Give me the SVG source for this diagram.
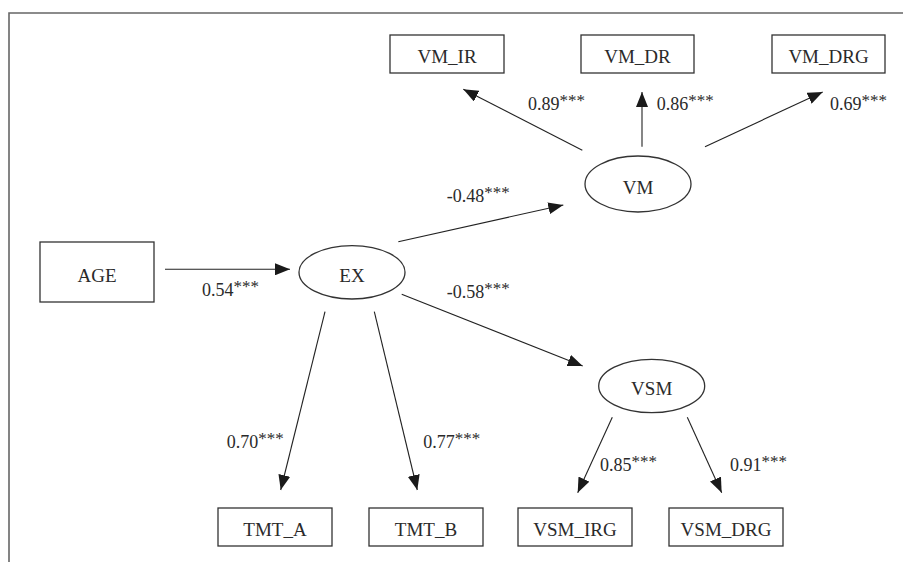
<svg xmlns="http://www.w3.org/2000/svg" width="903" height="562" viewBox="0 0 903 562">
<style>
.box{fill:#fff;stroke:#333;stroke-width:1.3}
.frame{stroke:#666;stroke-width:1.6;fill:none}
.t{font-family:"Liberation Serif","Times New Roman",serif;font-size:19px;fill:#2a2a2a;text-anchor:middle}
.l{font-family:"Liberation Serif","Times New Roman",serif;font-size:18px;fill:#2a2a2a}
.s{font-size:17px}
.c{stroke:#222;stroke-width:1.1;fill:none;marker-end:url(#ah)}
</style>
<defs>
<marker id="ah" markerUnits="userSpaceOnUse" markerWidth="16" markerHeight="12" refX="15" refY="6" orient="auto">
<path d="M0,0 L15,6 L0,12 Z" fill="#1a1a1a"/>
</marker>
</defs>
<rect width="903" height="562" fill="#fff"/>
<path class="frame" d="M9,562 V13 H903"/>
<g id="connectors">
<line class="c" x1="165" y1="269.3" x2="290" y2="269.3"/>
<line class="c" x1="398.3" y1="241.7" x2="563.3" y2="205"/>
<line class="c" x1="401.7" y1="294.3" x2="582.7" y2="366"/>
<line class="c" x1="582.3" y1="150.3" x2="463.3" y2="89.3"/>
<line class="c" x1="642" y1="146.7" x2="642" y2="92"/>
<line class="c" x1="705" y1="146.7" x2="822.7" y2="92"/>
<line class="c" x1="325" y1="311.7" x2="280.7" y2="490"/>
<line class="c" x1="374.3" y1="311.7" x2="417.3" y2="490"/>
<line class="c" x1="612.3" y1="417.3" x2="577.7" y2="492.7"/>
<line class="c" x1="687.3" y1="417.3" x2="721.7" y2="492.7"/>
</g>
<g id="labels">
<text class="l" x="202" y="296">0.54<tspan class="s" dy="-4">***</tspan></text>
<text class="l" x="446.7" y="202">-0.48<tspan class="s" dy="-4">***</tspan></text>
<text class="l" x="446.7" y="298">-0.58<tspan class="s" dy="-4">***</tspan></text>
<text class="l" x="528" y="110">0.89<tspan class="s" dy="-4">***</tspan></text>
<text class="l" x="656.7" y="110">0.86<tspan class="s" dy="-4">***</tspan></text>
<text class="l" x="830" y="110">0.69<tspan class="s" dy="-4">***</tspan></text>
<text class="l" x="226.7" y="448.3">0.70<tspan class="s" dy="-4">***</tspan></text>
<text class="l" x="423.3" y="448.3">0.77<tspan class="s" dy="-4">***</tspan></text>
<text class="l" x="600" y="470.7">0.85<tspan class="s" dy="-4">***</tspan></text>
<text class="l" x="730" y="470.7">0.91<tspan class="s" dy="-4">***</tspan></text>
</g>
<g id="AGE"><rect class="box" x="40" y="242" width="114" height="60"/><text class="t" x="97" y="282">AGE</text></g>
<g id="EX"><ellipse class="box" cx="352" cy="272.3" rx="53" ry="26.7"/><text class="t" x="352" y="282">EX</text></g>
<g id="VM"><ellipse class="box" cx="638" cy="184" rx="53" ry="28"/><text class="t" x="638" y="194">VM</text></g>
<g id="VSM"><ellipse class="box" cx="651.7" cy="386" rx="53" ry="26.7"/><text class="t" x="651.7" y="395">VSM</text></g>
<g id="VM_IR"><rect class="box" x="390" y="35" width="114" height="38"/><text class="t" x="447" y="63">VM_IR</text></g>
<g id="VM_DR"><rect class="box" x="581" y="35" width="113" height="38"/><text class="t" x="637.5" y="63">VM_DR</text></g>
<g id="VM_DRG"><rect class="box" x="772" y="35" width="113" height="38"/><text class="t" x="828.5" y="63">VM_DRG</text></g>
<g id="TMT_A"><rect class="box" x="218" y="508" width="114" height="38"/><text class="t" x="275" y="536">TMT_A</text></g>
<g id="TMT_B"><rect class="box" x="369" y="508" width="114" height="38"/><text class="t" x="426" y="536">TMT_B</text></g>
<g id="VSM_IRG"><rect class="box" x="518" y="508" width="114" height="38"/><text class="t" x="575" y="536">VSM_IRG</text></g>
<g id="VSM_DRG"><rect class="box" x="669" y="508" width="114" height="38"/><text class="t" x="726" y="536">VSM_DRG</text></g>
</svg>
